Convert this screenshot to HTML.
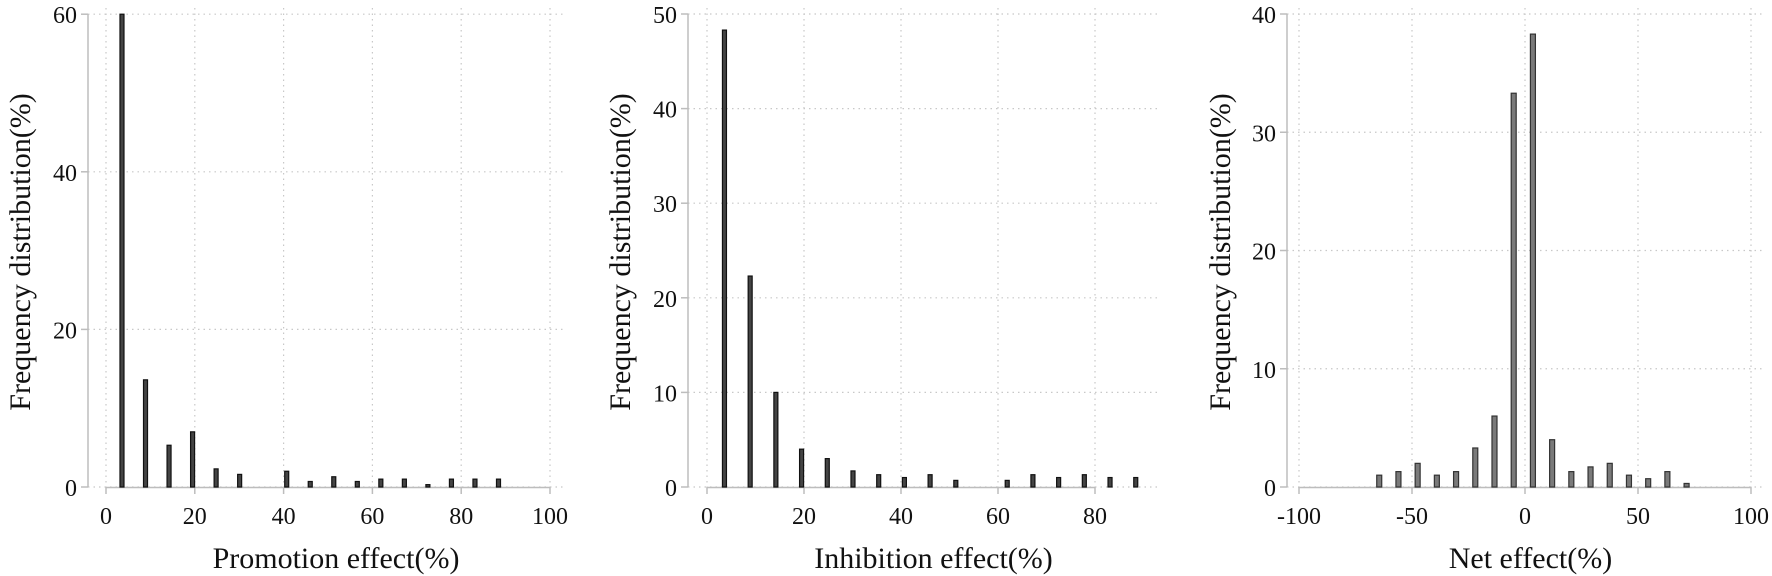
<!DOCTYPE html>
<html><head><meta charset="utf-8">
<style>
html,body{margin:0;padding:0;background:#fff;}
svg{display:block;font-family:"Liberation Serif","Times New Roman",serif;}
</style></head>
<body>
<svg id="chart" width="1772" height="576" viewBox="0 0 1772 576" xmlns="http://www.w3.org/2000/svg"></svg>
<script>
// Panel 1: Promotion effect
const promoBins = [3.6, 8.9, 14.2, 19.5, 24.8, 30.1, 40.7, 46, 51.3, 56.6, 61.9, 67.2, 72.5, 77.8, 83.1, 88.4];
const promoFreq = [60, 13.6, 5.3, 7, 2.3, 1.6, 2, 0.7, 1.3, 0.7, 1, 1, 0.3, 1, 1, 1];
const promoXTicks = [0, 20, 40, 60, 80, 100];
const promoYTicks = [0, 20, 40, 60];
// Panel 2: Inhibition effect
const inhibBins = [3.6, 8.9, 14.2, 19.5, 24.8, 30.1, 35.4, 40.7, 46, 51.3, 61.9, 67.2, 72.5, 77.8, 83.1, 88.4];
const inhibFreq = [48.3, 22.3, 10, 4, 3, 1.7, 1.3, 1, 1.3, 0.7, 0.7, 1.3, 1, 1.3, 1, 1];
const inhibXTicks = [0, 20, 40, 60, 80];
const inhibYTicks = [0, 10, 20, 30, 40, 50];
// Panel 3: Net effect
const netBins = [-64.5, -56, -47.5, -39, -30.5, -22, -13.5, -5, 3.5, 12, 20.5, 29, 37.5, 46, 54.5, 63, 71.5];
const netFreq = [1, 1.3, 2, 1, 1.3, 3.3, 6, 33.3, 38.3, 4, 1.3, 1.7, 2, 1, 0.7, 1.3, 0.3];
const netXTicks = [-100, -50, 0, 50, 100];
const netYTicks = [0, 10, 20, 30, 40];

const NS = "http://www.w3.org/2000/svg";
const svg = document.getElementById('chart');
function mk(tag, attrs, parent) {
  const e = document.createElementNS(NS, tag);
  for (const k in attrs) e.setAttribute(k, attrs[k]);
  (parent || svg).appendChild(e);
  return e;
}

function panel(cfg) {
  const g = mk('g', {});
  
  
  const X = v => cfg.x0 + (v - cfg.xt[0]) * cfg.sx;
  const Y = v => 487 - v * cfg.sy;
  const left = cfg.axisX, right = cfg.right;
  const yTop = Y(cfg.yt[cfg.yt.length - 1]);
  cfg.yt.forEach(t => {
    if (t === 0) return;
    const l = mk('line', {x1: left, x2: right, y1: Y(t), y2: Y(t), stroke: '#c8c8c8', 'stroke-width': 1.2, 'stroke-dasharray': '1.5,4'}, g);
    
    
  });
  cfg.xt.forEach(t => {
    const l = mk('line', {x1: X(t), x2: X(t), y1: 8, y2: 487, stroke: '#c8c8c8', 'stroke-width': 1.2, 'stroke-dasharray': '1.5,4'}, g);
    
    
  });
  const bl = mk('line', {x1: left, x2: right, y1: 487, y2: 487, stroke: '#c8c8c8', 'stroke-width': 1.2, 'stroke-dasharray': '1.5,4'}, g);
  
  
  const xa = mk('line', {x1: X(cfg.xt[0]), x2: X(cfg.xt[cfg.xt.length - 1]), y1: 487.5, y2: 487.5, stroke: '#bdbdbd', 'stroke-width': 1.5}, g);
  
  
  cfg.xt.forEach(t => {
    const tk = mk('line', {x1: X(t), x2: X(t), y1: 487, y2: 494, stroke: '#bdbdbd', 'stroke-width': 1.5}, g);
    
    
    const tx = mk('text', {x: X(t), y: 524, 'font-size': 24, 'text-anchor': 'middle', fill: '#111'}, g);
    tx.textContent = String(t);
    
    
  });
  const ya = mk('line', {x1: left, x2: left, y1: yTop, y2: 487, stroke: '#bdbdbd', 'stroke-width': 1.5}, g);
  
  
  cfg.yt.forEach(t => {
    const tk = mk('line', {x1: left - 7, x2: left, y1: Y(t), y2: Y(t), stroke: '#bdbdbd', 'stroke-width': 1.5}, g);
    
    
    const tx = mk('text', {x: left - 11, y: Y(t) + 9, 'font-size': 24, 'text-anchor': 'end', fill: '#111'}, g);
    tx.textContent = String(t);
    
    
  });
  cfg.bins.forEach((b, i) => {
    const v = cfg.vals[i];
    const r = mk('rect', {x: X(b) - cfg.bw / 2, y: Y(v), width: cfg.bw, height: v * cfg.sy, fill: cfg.fill, stroke: cfg.stroke, 'stroke-width': 1.2}, g);
    
    
  });
  const xt = mk('text', {x: (X(cfg.xt[0]) + right) / 2, y: 568, 'font-size': 30, 'text-anchor': 'middle', fill: '#111'}, g);
  xt.textContent = cfg.xlabel;
  
  
  const yt = mk('text', {x: 0, y: 0, 'font-size': 30, 'text-anchor': 'middle', fill: '#111', transform: `translate(${cfg.ylx},252) rotate(-90)`}, g);
  yt.textContent = 'Frequency distribution(%)';
  
  
}

panel({name: 'promotion-panel', x0: 106, sx: 4.44, sy: 7.88, axisX: 88, right: 566,
  xt: promoXTicks, yt: promoYTicks, bins: promoBins, vals: promoFreq, bw: 4, fill: '#444', stroke: '#111',
  xlabel: 'Promotion effect(%)', ylx: 30});
panel({name: 'inhibition-panel', x0: 707, sx: 4.85, sy: 9.46, axisX: 688, right: 1160,
  xt: inhibXTicks, yt: inhibYTicks, bins: inhibBins, vals: inhibFreq, bw: 4, fill: '#444', stroke: '#111',
  xlabel: 'Inhibition effect(%)', ylx: 630});
panel({name: 'net-panel', x0: 1299, sx: 2.26, sy: 11.825, axisX: 1287, right: 1762,
  xt: netXTicks, yt: netYTicks, bins: netBins, vals: netFreq, bw: 5, fill: '#7a7a7a', stroke: '#333',
  xlabel: 'Net effect(%)', ylx: 1230});
</script>
</body></html>
